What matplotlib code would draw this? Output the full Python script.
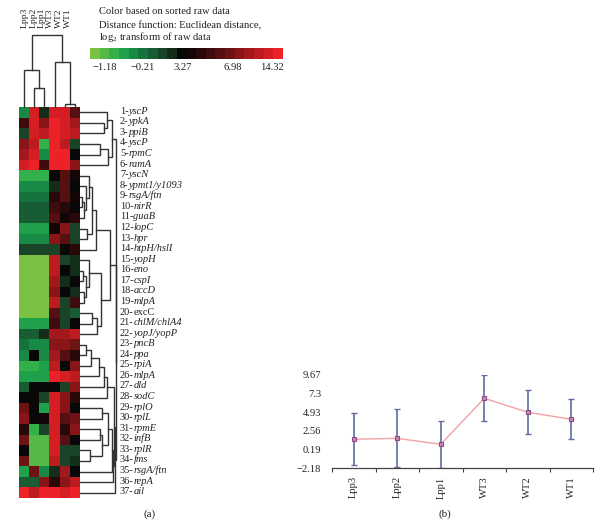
import numpy as np
import matplotlib
matplotlib.use("Agg")
import matplotlib.pyplot as plt
from matplotlib import colors as mcolors
from matplotlib.cm import ScalarMappable
from matplotlib.transforms import blended_transform_factory

plt.rcParams['font.family'] = ['Liberation Serif', 'DejaVu Serif']
plt.rcParams['mathtext.fontset'] = 'custom'
plt.rcParams['mathtext.rm'] = 'Liberation Serif'
plt.rcParams['mathtext.it'] = 'Liberation Serif:italic'
plt.rcParams['mathtext.bf'] = 'Liberation Serif:bold'
plt.rcParams['axes.unicode_minus'] = True

# ---------------- data ----------------
samples = ["Lpp3", "Lpp2", "Lpp1", "WT3", "WT2", "WT1"]

genes = ["yscP", "ypkA", "ppiB", "yscP", "rpmC", "ramA", "yscN", "ypmt1/y1093",
         "rsgA/ftn", "nirR", "guaB", "lopC", "hpr", "htpH/hslI", "yopH", "eno",
         "cspI", "accD", "mlpA", "excC", "chlM/chlA4", "yopJ/yopP", "pncB", "ppa",
         "rpiA", "mlpA", "dld", "sodC", "rplO", "rplL", "rpmE", "infB", "rplR",
         "fms", "rsgA/ftn", "repA", "ail"]
plain_genes = ["excC"]

# expression (log2 raw), columns: Lpp3, Lpp2, Lpp1, WT3, WT2, WT1
expr = [
    [-0.4, 13.5, 2.6, 14.0, 14.0, 5.8],
    [5.0, 13.0, 8.0, 15.8, 14.5, 11.0],
    [1.6, 13.0, 12.0, 15.8, 14.5, 12.0],
    [8.0, 12.0, -0.9, 15.8, 11.5, 1.6],
    [10.0, 13.0, -0.4, 15.8, 15.0, 3.5],
    [13.0, 15.8, 5.2, 15.8, 15.8, 8.5],
    [-0.95, -0.95, -0.95, 3.5, 6.2, 3.6],
    [-0.5, -0.5, -0.5, 2.7, 6.0, 3.5],
    [-0.2, -0.2, -0.2, 4.3, 6.0, 4.1],
    [0.7, 0.7, 0.7, 5.3, 4.5, 3.5],
    [0.7, 0.7, 0.7, 5.8, 3.8, 4.8],
    [-0.8, -0.8, -0.8, 4.2, 8.5, 1.6],
    [-0.5, -0.5, -0.5, 8.0, 6.2, 1.5],
    [1.8, 1.8, 1.8, 1.6, 3.5, 4.3],
    [-1.45, -1.45, -1.45, 12.0, 1.6, 2.6],
    [-1.45, -1.45, -1.45, 12.5, 3.5, 2.6],
    [-1.45, -1.45, -1.45, 10.5, 2.6, 3.5],
    [-1.45, -1.45, -1.45, 8.5, 3.5, 2.4],
    [-1.45, -1.45, -1.45, 12.0, 1.6, 5.0],
    [-1.45, -1.45, -1.45, 5.8, 1.7, 0.7],
    [-0.7, -0.7, -0.7, 5.5, 1.6, 3.5],
    [0.9, 0.9, 2.2, 11.0, 11.0, 11.5],
    [-0.3, -0.5, -0.5, 9.0, 8.5, 6.5],
    [-0.4, 3.5, -0.4, 10.0, 6.0, 4.3],
    [-0.9, -0.9, -0.8, 12.0, 3.5, 8.5],
    [-0.6, -0.6, -0.6, 15.5, 13.0, 12.0],
    [0.4, 3.5, 3.5, 3.5, 1.5, 7.5],
    [3.5, 3.5, 1.2, 13.0, 8.5, 4.3],
    [7.0, 3.5, -0.8, 14.0, 8.5, 3.5],
    [7.5, 3.5, 4.2, 14.0, 6.2, 6.8],
    [4.3, -0.9, 1.6, 13.5, 4.3, 7.5],
    [7.0, -1.2, -1.2, 14.5, 6.0, 3.5],
    [3.5, -1.2, -1.2, 14.5, 1.5, 1.5],
    [6.5, -1.2, -1.2, 12.5, 1.6, 2.6],
    [-0.6, 7.0, -0.5, 2.6, 9.5, 3.5],
    [0.3, 0.3, 9.0, 4.5, 8.5, 12.0],
    [15.8, 12.0, 15.8, 15.8, 13.0, 15.8],
]

colorbar_ticks = [-1.18, -0.21, 3.27, 6.98, 14.32]
colorbar_tick_pos = [0.075, 0.275, 0.48, 0.74, 0.94]
value_min, value_max = -1.6, 16.5

block_colors = ["#7cc242", "#55b948", "#33b04a", "#1fa04b", "#198a45",
                "#16733d", "#185c33", "#1a4428", "#142c1a", "#080808",
                "#140606", "#280909", "#3e0c0d", "#561011", "#6f1214",
                "#891518", "#a3181c", "#bc1b20", "#d51e24", "#ed2128"]

# dendrogram linkage: (left node, right node, merge height)
col_links = [(1, 2, 19), (0, 6, 37), (4, 5, 3), (3, 8, 45), (7, 9, 72)]
row_links = [
    (1, 2, 24), (0, 37, 27), (3, 4, 20), (39, 5, 28), (38, 40, 32),
    (8, 9, 2), (42, 10, 4), (7, 43, 6), (6, 44, 9), (11, 12, 7),
    (45, 46, 12), (47, 13, 16), (15, 16, 3), (17, 18, 4), (49, 50, 6),
    (14, 51, 9), (19, 20, 12), (53, 21, 17), (52, 54, 21), (48, 55, 30),
    (22, 23, 6), (57, 24, 11), (58, 25, 19), (59, 26, 24), (60, 27, 27),
    (28, 29, 22), (30, 31, 20), (32, 33, 10), (63, 64, 22), (62, 65, 28),
    (66, 34, 32), (67, 35, 33), (61, 68, 34), (69, 36, 35), (56, 70, 35.5),
    (41, 71, 36),
]

profile_mean = [1.48, 1.60, 0.84, 6.70, 4.92, 4.03]
profile_sd = [3.33, 3.70, 3.00, 2.93, 2.82, 2.55]
profile_yticks = [-2.18, 0.19, 2.56, 4.93, 7.3, 9.67]

# ---------------- helpers ----------------
W, H = 606, 526


def box(x0, y0, x1, y1):
    return [x0 / W, 1 - y1 / H, (x1 - x0) / W, (y1 - y0) / H]


def dendro_segments(links, n):
    pos = {i: float(i) for i in range(n)}
    hgt = {i: 0.0 for i in range(n)}
    segs = []
    for k, (a, b, h) in enumerate(links):
        segs.append([(pos[a], hgt[a]), (pos[a], h), (pos[b], h), (pos[b], hgt[b])])
        pos[n + k] = (pos[a] + pos[b]) / 2
        hgt[n + k] = h
    return segs


def fmt_num(v):
    return f"{v:g}".replace("-", "\u2212")


fig = plt.figure(figsize=(W / 100, H / 100), dpi=100)
fig.patch.set_facecolor("white")

cmap = mcolors.ListedColormap(block_colors)
anchor_vals = [value_min] + colorbar_ticks + [value_max]
anchor_pos = [0.0] + colorbar_tick_pos + [1.0]
norm = mcolors.FuncNorm((lambda v: np.interp(v, anchor_vals, anchor_pos),
                         lambda p: np.interp(p, anchor_pos, anchor_vals)),
                        vmin=value_min, vmax=value_max)

data = np.array(expr)
n_rows, n_cols = data.shape

# heatmap
ax_h = fig.add_axes(box(19, 107, 80, 498))
ax_h.imshow(data, cmap=cmap, norm=norm, aspect="auto", interpolation="nearest")
ax_h.set_axis_off()

tr = blended_transform_factory(ax_h.transAxes, ax_h.transData)
for i, g in enumerate(genes):
    num = ax_h.text((120 - 19) / 61, i - 0.1, f"{i + 1}-", transform=tr,
                    ha="left", va="center", fontsize=7.5, color="#222222")
    ax_h.annotate(g, xy=(1, 0), xycoords=num, xytext=(0, 0),
                  textcoords="offset points", ha="left", va="bottom",
                  fontsize=7.5, color="#222222",
                  fontstyle="normal" if g in plain_genes else "italic")

line_kw = dict(color="#333333", lw=1.0, solid_joinstyle="miter")

# row dendrogram
ax_rd = fig.add_axes(box(80, 107, 117, 498))
for seg in dendro_segments(row_links, n_rows):
    ys, xs = zip(*seg)
    ax_rd.plot(xs, ys, clip_on=False, **line_kw)
ax_rd.set_xlim(0, 37)
ax_rd.set_ylim(n_rows - 0.5, -0.5)
ax_rd.set_axis_off()

# column dendrogram
ax_cd = fig.add_axes(box(19, 35, 80, 107))
for seg in dendro_segments(col_links, n_cols):
    xs, ys = zip(*seg)
    ax_cd.plot(xs, ys, clip_on=False, **line_kw)
ax_cd.set_xlim(-0.5, n_cols - 0.5)
ax_cd.set_ylim(0, 72)
ax_cd.set_axis_off()

trc = blended_transform_factory(ax_cd.transData, fig.transFigure)
for i, s in enumerate(samples):
    ax_cd.text(0.05 + i * 0.845, 1 - 28 / H, s, transform=trc,
               rotation=90, ha="center", va="bottom", fontsize=6.8, color="#222222")

# header texts
fig.text(99 / W, 1 - 11 / H, "Color based on sorted raw data", fontsize=7.6,
         va="center", ha="left", color="#222222")
fig.text(99 / W, 1 - 26 / H, "Distance function: Euclidean distance,", fontsize=7.6,
         va="center", ha="left", color="#222222")
fig.text(99 / W, 1 - 37 / H, r"log$_\mathrm{2}$ transform of raw data", fontsize=7.6,
         va="center", ha="left", color="#222222")

# colorbar
cax = fig.add_axes(box(90, 48, 283, 59))
cb = fig.colorbar(ScalarMappable(norm=norm, cmap=cmap), cax=cax,
                  orientation="horizontal", ticks=colorbar_ticks)
cb.ax.set_xticklabels([fmt_num(v) for v in colorbar_ticks])
cb.ax.tick_params(length=0, labelsize=7.6, pad=3, colors="#222222")
cb.outline.set_visible(False)

fig.text(150 / W, 1 - 514 / H, "(a)", fontsize=8, ha="center", va="center", color="#222222")

# profile chart (b)
ax_b = fig.add_axes(box(332, 375, 593, 468))
x = np.arange(len(samples))
ax_b.errorbar(x, profile_mean, yerr=profile_sd, fmt="none", ecolor="#5f6d9f",
              elinewidth=1.2, capsize=2.5, capthick=1.0, zorder=2)
ax_b.plot(x, profile_mean, color="#f2a3a3", lw=1.0, marker="s", markersize=3.2,
          markerfacecolor="#c98bb5", markeredgecolor="#8a4c86", markeredgewidth=0.8,
          zorder=3)
ax_b.set_xlim(-0.5, len(samples) - 0.5)
ax_b.set_ylim(profile_yticks[0], profile_yticks[-1])
ax_b.set_yticks(profile_yticks)
ax_b.set_yticklabels([fmt_num(v) for v in profile_yticks])
ax_b.set_xticks(np.arange(len(samples) + 1) - 0.5)
ax_b.set_xticklabels([])
ax_b.set_xticks(x, minor=True)
ax_b.set_xticklabels(samples, minor=True, rotation=90)
ax_b.tick_params(axis="x", which="major", direction="out", length=3, width=0.8,
                 color="#444444")
ax_b.tick_params(axis="x", which="minor", length=0, pad=6, labelsize=7.6,
                 colors="#222222")
ax_b.tick_params(axis="y", length=0, pad=8, labelsize=7.6, colors="#222222")
for side in ("top", "right", "left"):
    ax_b.spines[side].set_visible(False)
ax_b.spines["bottom"].set_color("#444444")
ax_b.spines["bottom"].set_linewidth(0.9)
ax_b.patch.set_alpha(0)

fig.text(445 / W, 1 - 514 / H, "(b)", fontsize=8, ha="center", va="center", color="#222222")

fig.savefig("out.png", dpi=100, facecolor="white")
